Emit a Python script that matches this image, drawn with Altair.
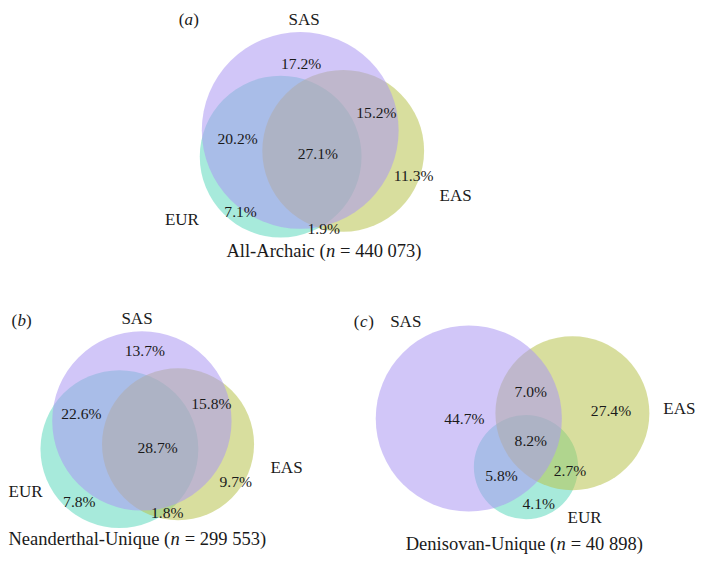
import altair as alt
import pandas as pd

# ---------------- data ----------------
panel_ids = ["a", "b", "c"]
panel_titles = ["All-Archaic", "Neanderthal-Unique", "Denisovan-Unique"]
panel_n = ["440 073", "299 553", "40 898"]
populations = ["EUR", "EAS", "SAS"]  # drawing order, bottom -> top
regions = ["SAS", "EUR", "EAS", "SAS+EUR", "SAS+EAS", "EUR+EAS", "SAS+EUR+EAS"]
pct_a = [17.2, 7.1, 11.3, 20.2, 15.2, 1.9, 27.1]
pct_b = [13.7, 7.8, 9.7, 22.6, 15.8, 1.8, 28.7]
pct_c = [44.7, 4.1, 27.4, 5.8, 7.0, 2.7, 8.2]
pcts = [pct_a, pct_b, pct_c]

# ---------------- layout (figure coordinates, 705 x 563 frame) ----------------
FIG_W, FIG_H = 705, 563
# circles per panel, in populations order: (x, y, radius)
circle_geom = [
    [(279, 153, 83), (343, 147, 83), (299, 126, 101)],
    [(114, 454, 81), (174, 449, 78), (137, 425, 92)],
    [(530, 472.5, 53.5), (577.5, 417, 79), (471.5, 422.5, 95.5)],
]
# region label positions, in regions order
region_pos = [
    [(300, 58), (238, 210), (415, 173), (235, 135), (377, 108), (323, 227), (317, 150)],
    [(140, 353), (73, 508), (233, 488), (75, 418), (208, 408), (163, 520), (153, 453)],
    [(467, 423), (543, 510), (617, 415), (505, 482), (535, 395), (575, 477), (535, 446)],
]
# population name positions, in populations order
pop_pos = [
    [(178, 218), (458, 193), (303, 12)],
    [(18, 498), (285, 473), (132, 320)],
    [(590, 525), (687, 413), (407, 323)],
]
letter_pos = [(185, 12), (14, 322), (364, 323)]
caption_pos = [(330, 250), (171, 547), (566, 552)]

FONT = "Liberation Serif, Times New Roman, Times, serif"
INK = "#1a1a1a"
W, H = 689, 547
K = (W / FIG_W + H / FIG_H) / 2  # pixels per figure unit

circles = []
for pi, p in enumerate(panel_ids):
    for k, pop in enumerate(populations):
        x, y, r = circle_geom[pi][k]
        circles.append({"panel": p, "pop": pop, "x": x, "y": y, "r": r, "order": k})
circ_df = pd.DataFrame(circles)

labels = []
for pi, p in enumerate(panel_ids):
    for k, reg in enumerate(regions):
        x, y = region_pos[pi][k]
        labels.append({"panel": p, "region": reg, "x": x, "y": y, "text": f"{pcts[pi][k]:.1f}%"})
lab_df = pd.DataFrame(labels)

pops = []
for pi, p in enumerate(panel_ids):
    for k, pop in enumerate(populations):
        x, y = pop_pos[pi][k]
        pops.append({"panel": p, "x": x, "y": y, "text": pop})
pop_df = pd.DataFrame(pops)

# rich text: prefix (upright) + italic part + suffix (upright)
rich = []
for pi, p in enumerate(panel_ids):
    x, y = letter_pos[pi]
    rich.append({"x": x, "y": y, "pre": "(", "ital": p, "post": ")", "size": 17.0,
                 "lo": 4.5, "ro": 4.5})
    x, y = caption_pos[pi]
    rich.append({"x": x, "y": y, "pre": f"{panel_titles[pi]} (", "ital": "n",
                 "post": f"= {panel_n[pi]})", "size": 18.5, "lo": 5.0, "ro": 9.8})
rich_df = pd.DataFrame(rich)

xs = alt.Scale(domain=[0, FIG_W])
ys = alt.Scale(domain=[0, FIG_H], reverse=True)
X = alt.X("x:Q", scale=xs, axis=None)
Y = alt.Y("y:Q", scale=ys, axis=None)

circ = alt.Chart(circ_df).transform_calculate(
    area=f"pow(2 * datum.r * {K}, 2)"
).mark_circle(opacity=0.55, stroke=None).encode(
    x=X, y=Y,
    size=alt.Size("area:Q", scale=None, legend=None),
    color=alt.Color("pop:N", scale=alt.Scale(domain=["SAS", "EUR", "EAS"],
                                              range=["#ab97f3", "#5fd9bd", "#b8c24e"]), legend=None),
    order=alt.Order("order:Q"),
)

pct_text = alt.Chart(lab_df).mark_text(font=FONT, fontSize=15.6, color=INK, baseline="middle").encode(
    x=X, y=Y, text="text:N")
pop_text = alt.Chart(pop_df).mark_text(font=FONT, fontSize=17, color=INK, baseline="middle").encode(
    x=X, y=Y, text="text:N")

rich_base = alt.Chart(rich_df)
pre = rich_base.transform_calculate(xp="datum.x - datum.lo").mark_text(
    font=FONT, color=INK, baseline="middle", align="right").encode(
    x=alt.X("xp:Q", scale=xs, axis=None), y=Y, text="pre:N",
    size=alt.Size("size:Q", scale=None, legend=None))
ital = rich_base.mark_text(font=FONT, color=INK, baseline="middle", align="center", fontStyle="italic").encode(
    x=X, y=Y, text="ital:N", size=alt.Size("size:Q", scale=None, legend=None))
post = rich_base.transform_calculate(xp="datum.x + datum.ro").mark_text(
    font=FONT, color=INK, baseline="middle", align="left").encode(
    x=alt.X("xp:Q", scale=xs, axis=None), y=Y, text="post:N",
    size=alt.Size("size:Q", scale=None, legend=None))

chart = alt.layer(circ, pct_text, pop_text, pre, ital, post).properties(
    width=W, height=H, padding=0, autosize=alt.AutoSizeParams(type="none"),
    background="white",
).configure_view(stroke=None)

chart.save("out.html", embed_options={"renderer": "svg", "actions": False})
